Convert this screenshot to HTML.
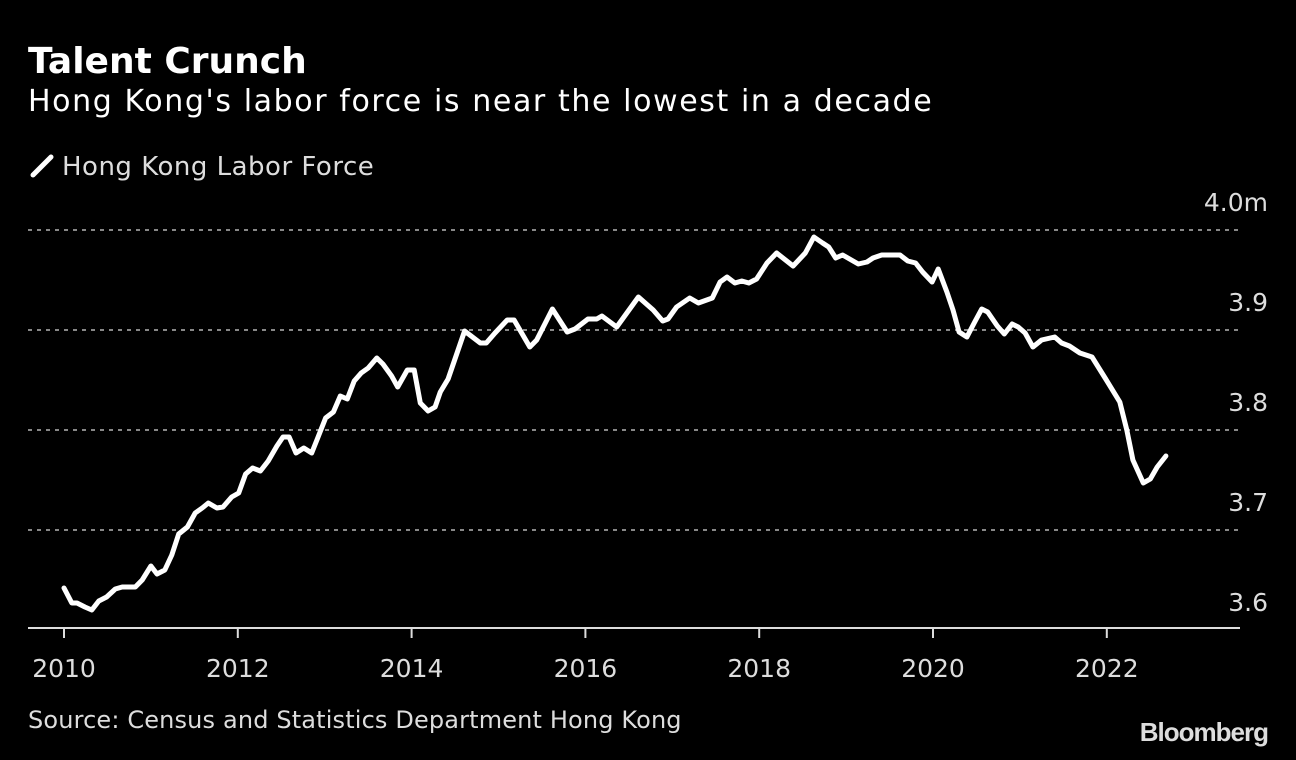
<!DOCTYPE html>
<html><head><meta charset="utf-8">
<style>
html,body{margin:0;padding:0;background:#000;}
body{width:1296px;height:760px;overflow:hidden;font-family:"DejaVu Sans","Liberation Sans",sans-serif;color:#fff;position:relative;}
.t{position:absolute;white-space:nowrap;}
</style></head>
<body>
<div class="t" style="left:28px;top:41px;font-size:36px;font-weight:bold;">Talent Crunch</div>
<div class="t" style="left:28px;top:84px;font-size:30px;letter-spacing:1.6px;">Hong Kong's labor force is near the lowest in a decade</div>
<div class="t" style="left:30px;top:152px;font-size:26px;letter-spacing:0.5px;color:#ddd;">
<svg width="24" height="24" style="vertical-align:-3px;margin-right:8px"><line x1="3" y1="21" x2="21" y2="3" stroke="#fff" stroke-width="5" stroke-linecap="round"/></svg>Hong Kong Labor Force</div>
<svg id="chart" width="1296" height="760" style="position:absolute;left:0;top:0"></svg>
<div class="t" style="left:28px;top:706px;font-size:24px;letter-spacing:0.15px;color:#ddd;">Source: Census and Statistics Department Hong Kong</div>
<div class="t" style="right:28px;top:717px;font-size:26px;font-weight:bold;letter-spacing:-1px;color:#ddd;font-family:'Liberation Sans',sans-serif;">Bloomberg</div>
<script>
const times=[2010.00,2010.09,2010.15,2010.24,2010.32,2010.40,2010.49,2010.59,2010.67,2010.82,2010.90,2011.00,2011.07,2011.16,2011.24,2011.32,2011.42,2011.51,2011.59,2011.66,2011.76,2011.83,2011.93,2012.01,2012.09,2012.17,2012.26,2012.35,2012.45,2012.52,2012.59,2012.67,2012.76,2012.85,2012.92,2013.01,2013.10,2013.18,2013.26,2013.34,2013.42,2013.50,2013.60,2013.67,2013.77,2013.84,2013.95,2014.03,2014.10,2014.19,2014.27,2014.33,2014.42,2014.61,2014.79,2014.86,2014.96,2015.10,2015.18,2015.36,2015.44,2015.62,2015.79,2015.88,2016.03,2016.13,2016.19,2016.36,2016.61,2016.78,2016.89,2016.95,2017.05,2017.20,2017.30,2017.46,2017.55,2017.63,2017.72,2017.80,2017.88,2017.97,2018.09,2018.20,2018.39,2018.53,2018.63,2018.73,2018.80,2018.88,2018.96,2019.14,2019.24,2019.31,2019.41,2019.62,2019.71,2019.80,2019.88,2019.99,2020.06,2020.16,2020.23,2020.30,2020.39,2020.48,2020.56,2020.63,2020.74,2020.82,2020.91,2020.98,2021.06,2021.15,2021.25,2021.40,2021.48,2021.57,2021.69,2021.83,2021.98,2022.15,2022.23,2022.30,2022.42,2022.50,2022.58,2022.68];
const values=[3.642,3.627,3.627,3.623,3.620,3.629,3.633,3.641,3.643,3.643,3.650,3.664,3.656,3.660,3.675,3.696,3.703,3.717,3.722,3.727,3.722,3.723,3.733,3.737,3.756,3.762,3.759,3.769,3.784,3.793,3.793,3.777,3.782,3.777,3.792,3.812,3.818,3.834,3.831,3.849,3.857,3.862,3.872,3.866,3.854,3.843,3.860,3.860,3.827,3.819,3.823,3.838,3.851,3.899,3.887,3.887,3.897,3.910,3.910,3.883,3.890,3.921,3.898,3.901,3.911,3.911,3.914,3.903,3.933,3.920,3.909,3.911,3.923,3.932,3.927,3.932,3.948,3.953,3.947,3.949,3.947,3.951,3.967,3.977,3.964,3.977,3.993,3.987,3.983,3.972,3.975,3.966,3.968,3.972,3.975,3.975,3.969,3.967,3.958,3.948,3.961,3.938,3.920,3.898,3.893,3.908,3.921,3.918,3.904,3.896,3.906,3.903,3.897,3.883,3.890,3.893,3.887,3.884,3.877,3.873,3.852,3.828,3.800,3.770,3.747,3.751,3.763,3.774];
const yTicks=[3.6,3.7,3.8,3.9,4.0];
const yTickLabels=["3.6","3.7","3.8","3.9","4.0m"];
const xTicks=[2010,2012,2014,2016,2018,2020,2022];
const NS="http://www.w3.org/2000/svg";
const svg=document.getElementById('chart');
function xs(t){return 64+(t-2010)*86.9;}
function ys(v){return 630-(v-3.6)*1000;}
function mk(tag,attrs){const e=document.createElementNS(NS,tag);for(const k in attrs)e.setAttribute(k,attrs[k]);svg.appendChild(e);return e;}
yTicks.forEach((v,i)=>{
  if(i>0){const g=mk('line',{x1:28,x2:1240,y1:ys(v),y2:ys(v),stroke:'#888','stroke-width':2,'stroke-dasharray':'4 5'});
  
  }
  const t=mk('text',{x:1268,y:ys(v)-19,'text-anchor':'end','font-size':25,fill:'#ddd','font-family':'DejaVu Sans, sans-serif'});
  t.textContent=yTickLabels[i];
  
  
});
const ax=mk('line',{x1:28,x2:1240,y1:628,y2:628,stroke:'#ddd','stroke-width':2});


xTicks.forEach(y=>{
  const tk=mk('line',{x1:xs(y),x2:xs(y),y1:628,y2:638,stroke:'#ddd','stroke-width':2});
  
  
  const t=mk('text',{x:xs(y),y:677,'text-anchor':'middle','font-size':25,fill:'#ddd','font-family':'DejaVu Sans, sans-serif'});
  t.textContent=String(y);
  
  
});
const d=times.map((t,i)=>(i?'L':'M')+xs(t).toFixed(1)+','+ys(values[i]).toFixed(1)).join('');
const p=mk('path',{d:d,fill:'none',stroke:'#fff','stroke-width':5,'stroke-linejoin':'round','stroke-linecap':'round'});


</script>
</body></html>
